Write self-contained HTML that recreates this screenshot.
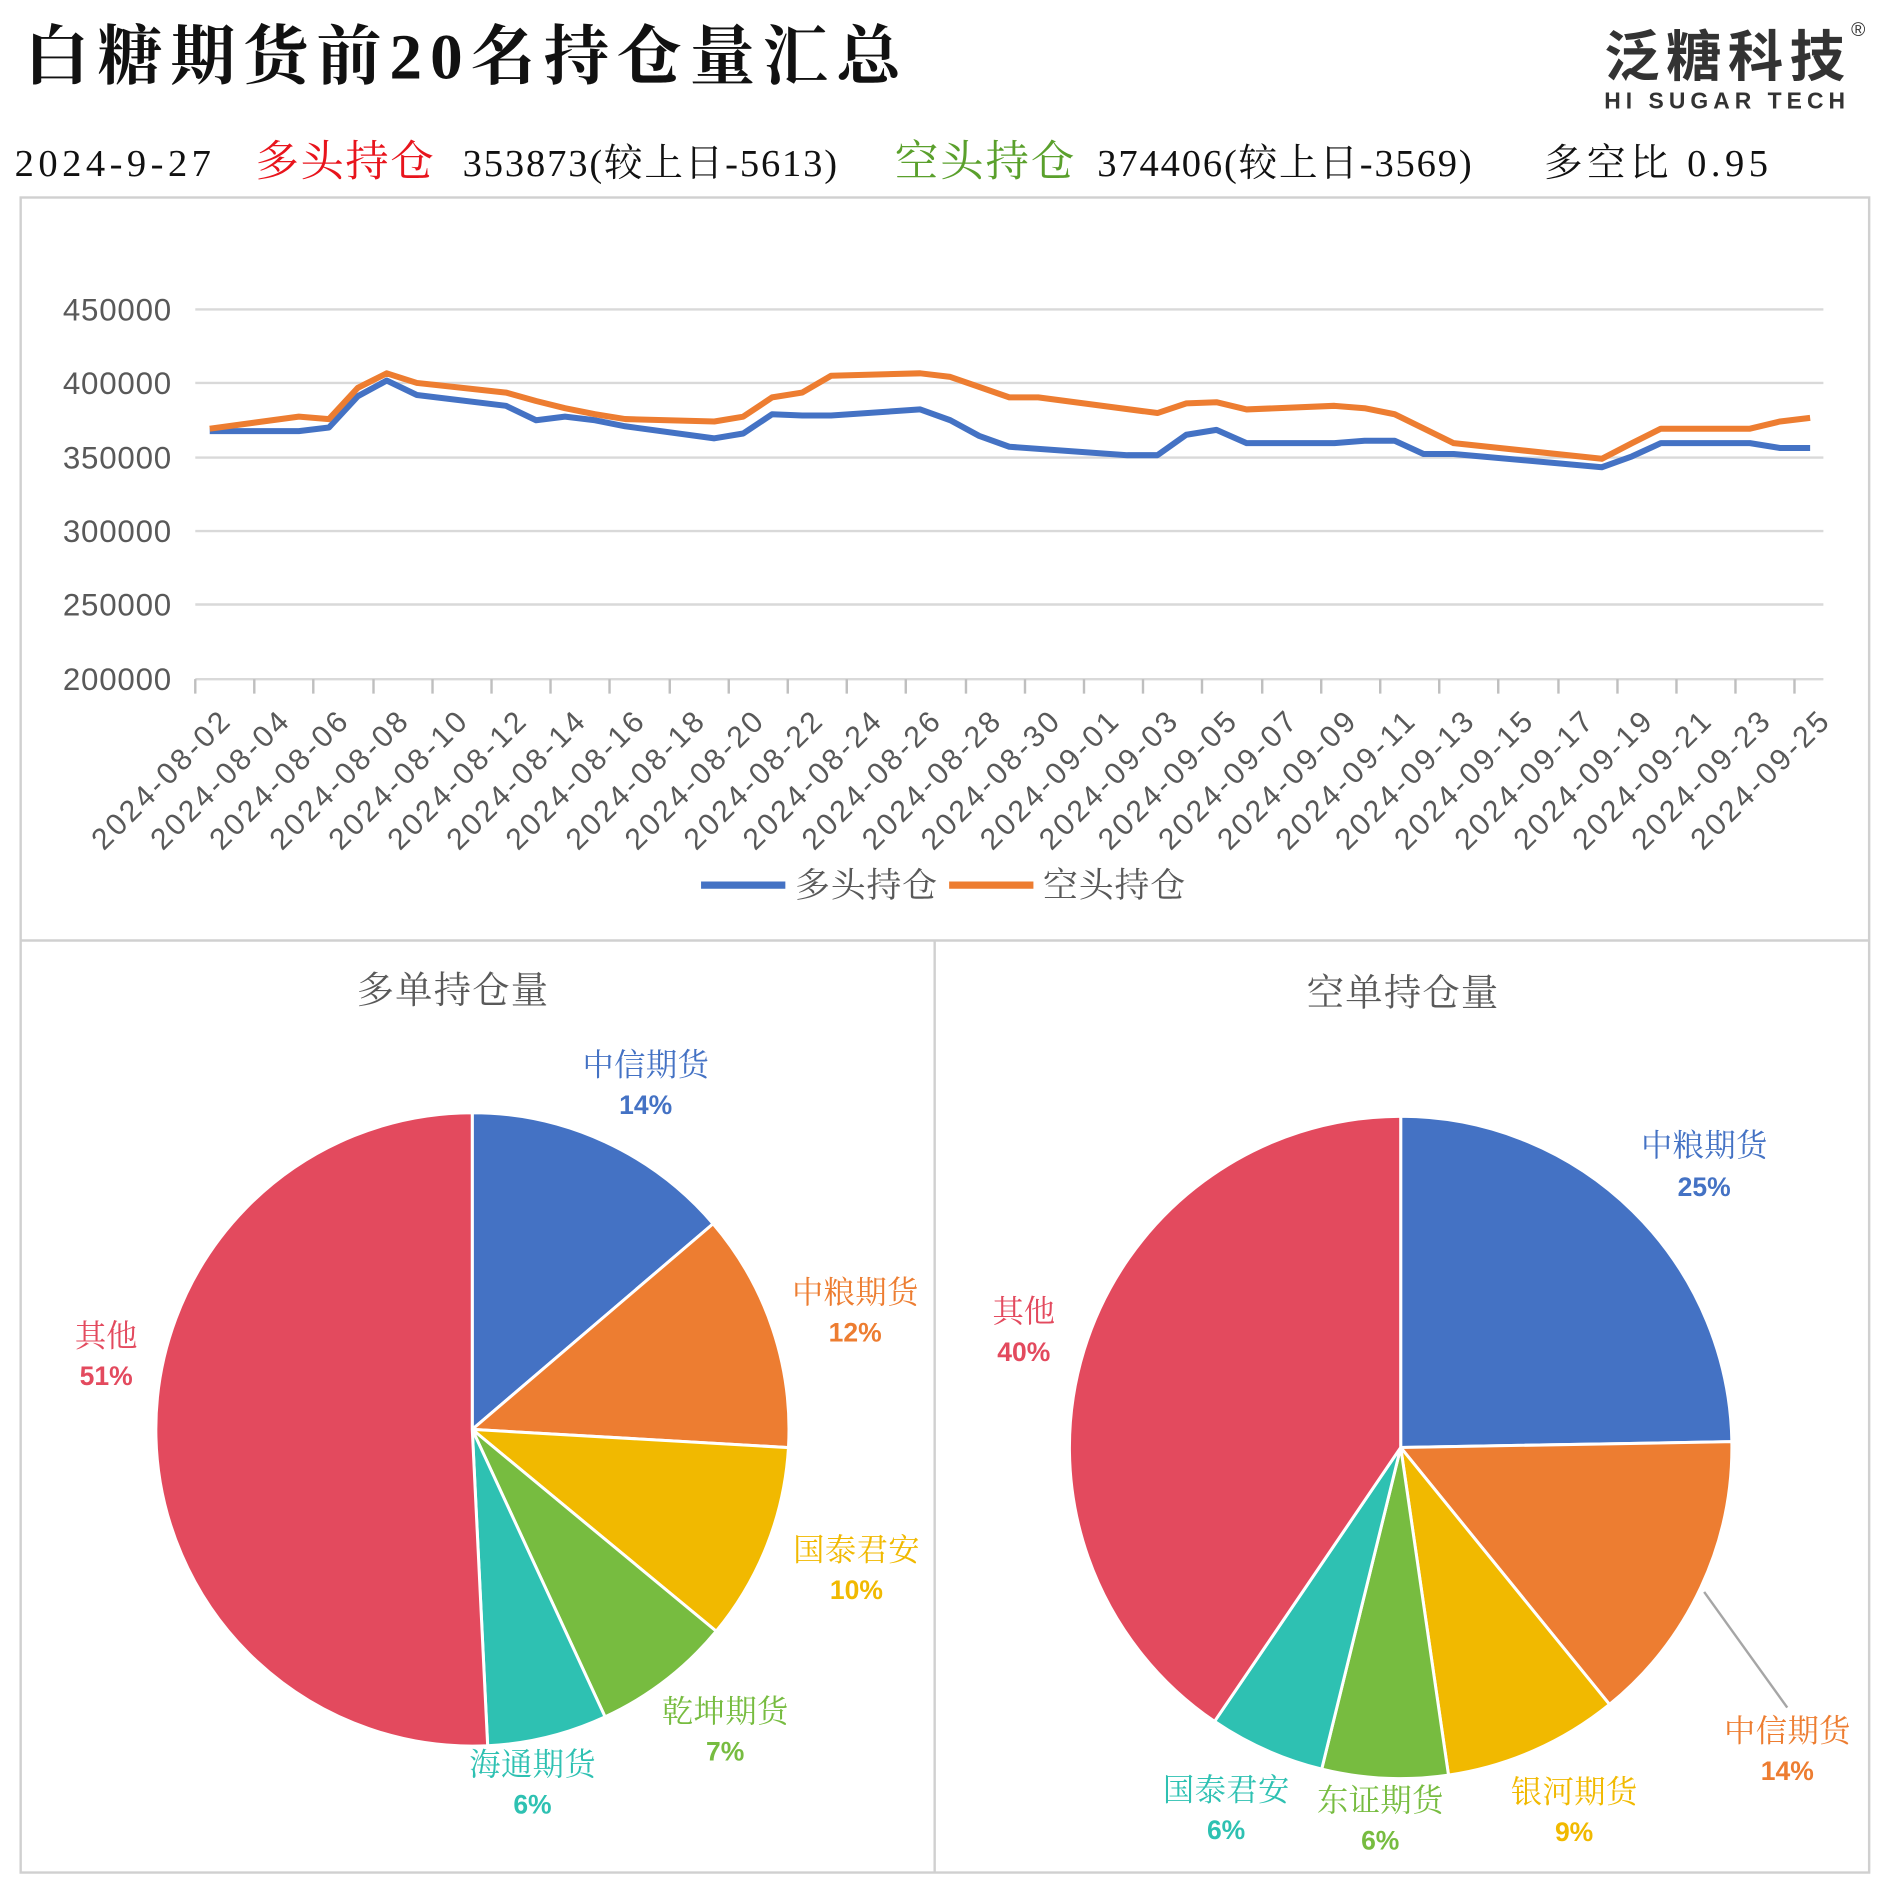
<!DOCTYPE html>
<html><head><meta charset="utf-8"><style>
html,body{margin:0;padding:0;background:#fff;}
svg{display:block}
</style></head><body>
<svg width="1885" height="1887" viewBox="0 0 1565 1567" xmlns="http://www.w3.org/2000/svg">
<rect width="1565" height="1567" fill="#fff"/>
<text x="20" y="65" font-family="'Liberation Serif','Noto Serif CJK SC',serif" font-size="54" font-weight="bold" fill="#111" textLength="728" lengthAdjust="spacing">白糖期货前20名持仓量汇总</text>
<text x="1332" y="63" font-family="'Liberation Sans','Noto Sans CJK SC',sans-serif" font-size="46" font-weight="bold" fill="#333" textLength="200">泛糖科技</text>
<text x="1537" y="30" font-family="'Liberation Sans',sans-serif" font-size="16" fill="#333">®</text>
<text x="1332" y="90" font-family="'Liberation Sans',sans-serif" font-size="19" font-weight="bold" fill="#333" textLength="200">HI SUGAR TECH</text>
<g font-family="'Liberation Serif','Noto Serif CJK SC',serif" font-size="32">
<text x="12" y="146" fill="#111" textLength="163">2024-9-27</text>
<text x="212" y="146" fill="#e8141c" font-size="36" textLength="148">多头持仓</text>
<text x="384" y="146" fill="#111" textLength="311">353873(较上日-5613)</text>
<text x="743" y="146" fill="#5aa02c" font-size="36" textLength="149">空头持仓</text>
<text x="911" y="146" fill="#111" textLength="311">374406(较上日-3569)</text>
<text x="1282" y="146" fill="#111" textLength="186">多空比 0.95</text>
</g>
<g fill="none" stroke="#d0d0d0" stroke-width="2">
<rect x="17" y="164" width="1535" height="1391"/>
<line x1="17" y1="781" x2="1552" y2="781"/>
<line x1="776" y1="781" x2="776" y2="1555"/>
</g>
<g stroke="#d9d9d9" stroke-width="2">
<line x1="162" y1="257" x2="1514" y2="257"/>
<line x1="162" y1="318" x2="1514" y2="318"/>
<line x1="162" y1="380" x2="1514" y2="380"/>
<line x1="162" y1="441" x2="1514" y2="441"/>
<line x1="162" y1="502" x2="1514" y2="502"/>
<line x1="162" y1="564" x2="1514" y2="564"/>
</g>
<g stroke="#bfbfbf" stroke-width="2">
<path d="M162 564v12M211 564v12M260 564v12M310 564v12M359 564v12M408 564v12M457 564v12M506 564v12M556 564v12M605 564v12M654 564v12M703 564v12M752 564v12M802 564v12M851 564v12M900 564v12M949 564v12M998 564v12M1048 564v12M1097 564v12M1146 564v12M1195 564v12M1244 564v12M1294 564v12M1343 564v12M1392 564v12M1441 564v12M1490 564v12"/>
</g>
<g font-family="'Liberation Sans',sans-serif" font-size="26" fill="#595959" text-anchor="end">
<text x="142" y="266" textLength="90">450000</text><text x="142" y="327" textLength="90">400000</text><text x="142" y="389" textLength="90">350000</text>
<text x="142" y="450" textLength="90">300000</text><text x="142" y="511" textLength="90">250000</text><text x="142" y="573" textLength="90">200000</text>
</g>
<g font-family="'Liberation Sans',sans-serif" font-size="25" fill="#595959" text-anchor="end">
<text transform="translate(192,601) rotate(-45)" textLength="150">2024-08-02</text>
<text transform="translate(241,601) rotate(-45)" textLength="150">2024-08-04</text>
<text transform="translate(290,601) rotate(-45)" textLength="150">2024-08-06</text>
<text transform="translate(340,601) rotate(-45)" textLength="150">2024-08-08</text>
<text transform="translate(389,601) rotate(-45)" textLength="150">2024-08-10</text>
<text transform="translate(438,601) rotate(-45)" textLength="150">2024-08-12</text>
<text transform="translate(487,601) rotate(-45)" textLength="150">2024-08-14</text>
<text transform="translate(536,601) rotate(-45)" textLength="150">2024-08-16</text>
<text transform="translate(586,601) rotate(-45)" textLength="150">2024-08-18</text>
<text transform="translate(635,601) rotate(-45)" textLength="150">2024-08-20</text>
<text transform="translate(684,601) rotate(-45)" textLength="150">2024-08-22</text>
<text transform="translate(733,601) rotate(-45)" textLength="150">2024-08-24</text>
<text transform="translate(782,601) rotate(-45)" textLength="150">2024-08-26</text>
<text transform="translate(832,601) rotate(-45)" textLength="150">2024-08-28</text>
<text transform="translate(881,601) rotate(-45)" textLength="150">2024-08-30</text>
<text transform="translate(930,601) rotate(-45)" textLength="150">2024-09-01</text>
<text transform="translate(979,601) rotate(-45)" textLength="150">2024-09-03</text>
<text transform="translate(1028,601) rotate(-45)" textLength="150">2024-09-05</text>
<text transform="translate(1078,601) rotate(-45)" textLength="150">2024-09-07</text>
<text transform="translate(1127,601) rotate(-45)" textLength="150">2024-09-09</text>
<text transform="translate(1176,601) rotate(-45)" textLength="150">2024-09-11</text>
<text transform="translate(1225,601) rotate(-45)" textLength="150">2024-09-13</text>
<text transform="translate(1274,601) rotate(-45)" textLength="150">2024-09-15</text>
<text transform="translate(1324,601) rotate(-45)" textLength="150">2024-09-17</text>
<text transform="translate(1373,601) rotate(-45)" textLength="150">2024-09-19</text>
<text transform="translate(1422,601) rotate(-45)" textLength="150">2024-09-21</text>
<text transform="translate(1471,601) rotate(-45)" textLength="150">2024-09-23</text>
<text transform="translate(1520,601) rotate(-45)" textLength="150">2024-09-25</text>
</g>
<polyline fill="none" stroke="#4472C4" stroke-width="5" stroke-linejoin="round" points="174,358 248,358 273,355 297,329 321,316 346,328 420,337 445,349 469,346 494,349 519,354 593,364 617,360 641,344 666,345 690,345 764,340 789,349 813,362 838,371 936,378 961,378 985,361 1010,357 1035,368 1108,368 1133,366 1158,366 1182,377 1207,377 1330,388 1355,379 1379,368 1453,368 1478,372 1503,372"/>
<polyline fill="none" stroke="#ED7D31" stroke-width="5" stroke-linejoin="round" points="174,356 248,346 273,348 297,322 321,310 346,318 420,326 445,333 469,339 494,344 519,348 593,350 617,346 641,330 666,326 690,312 764,310 789,313 838,330 862,330 961,343 985,335 1010,334 1035,340 1108,337 1133,339 1158,344 1207,368 1330,381 1355,368 1379,356 1453,356 1478,350 1503,347"/>
<line x1="582" y1="735" x2="652" y2="735" stroke="#4472C4" stroke-width="6"/>
<line x1="788" y1="735" x2="858" y2="735" stroke="#ED7D31" stroke-width="6"/>
<g font-family="'Liberation Serif','Noto Serif CJK SC',serif" font-size="29" fill="#595959">
<text x="660" y="745" textLength="118">多头持仓</text><text x="866" y="745" textLength="118">空头持仓</text>
<text x="296" y="833" font-size="31" textLength="159">多单持仓量</text><text x="1085" y="835" font-size="31" textLength="159">空单持仓量</text>
</g>
<g stroke="#fff" stroke-width="2.5">
<path d="M392 1187L392 924A263 263 0 0 1 592 1016.2Z" fill="#4472C4"/>
<path d="M392 1187L592 1016.2A263 263 0 0 1 654.6 1202.1Z" fill="#ED7D31"/>
<path d="M392 1187L654.6 1202.1A263 263 0 0 1 594.6 1354.6Z" fill="#F1B900"/>
<path d="M392 1187L594.6 1354.6A263 263 0 0 1 502.3 1425.7Z" fill="#77BC40"/>
<path d="M392 1187L502.3 1425.7A263 263 0 0 1 404.8 1449.7Z" fill="#2EC1B2"/>
<path d="M392 1187L404.8 1449.7A263 263 0 1 1 392 924Z" fill="#E34A5E"/>
<path d="M1163 1202L1163 927A275 275 0 0 1 1438 1197.2Z" fill="#4472C4"/>
<path d="M1163 1202L1438 1197.2A275 275 0 0 1 1336.4 1415.4Z" fill="#ED7D31"/>
<path d="M1163 1202L1336.4 1415.4A275 275 0 0 1 1202.7 1474.1Z" fill="#F1B900"/>
<path d="M1163 1202L1202.7 1474.1A275 275 0 0 1 1097.4 1469.1Z" fill="#77BC40"/>
<path d="M1163 1202L1097.4 1469.1A275 275 0 0 1 1008.4 1429.5Z" fill="#2EC1B2"/>
<path d="M1163 1202L1008.4 1429.5A275 275 0 0 1 1163 927Z" fill="#E34A5E"/>
</g>
<line x1="1415" y1="1322" x2="1484" y2="1418" stroke="#a6a6a6" stroke-width="2"/>
<g text-anchor="middle">
<g font-family="'Liberation Serif','Noto Serif CJK SC',serif" font-size="26">
<text x="536" y="893" fill="#4472C4" textLength="105">中信期货</text>
<text x="710" y="1082" fill="#ED7D31" textLength="105">中粮期货</text>
<text x="711" y="1296" fill="#F1B900" textLength="105">国泰君安</text>
<text x="602" y="1430" fill="#77BC40" textLength="105">乾坤期货</text>
<text x="442" y="1474" fill="#2EC1B2" textLength="105">海通期货</text>
<text x="88" y="1118" fill="#E34A5E" textLength="52">其他</text>
<text x="1415" y="960" fill="#4472C4" textLength="105">中粮期货</text>
<text x="1484" y="1446" fill="#ED7D31" textLength="105">中信期货</text>
<text x="1307" y="1497" fill="#F1B900" textLength="105">银河期货</text>
<text x="1146" y="1504" fill="#77BC40" textLength="105">东证期货</text>
<text x="1018" y="1495" fill="#2EC1B2" textLength="105">国泰君安</text>
<text x="850" y="1098" fill="#E34A5E" textLength="52">其他</text>
</g>
<g font-family="'Liberation Sans',sans-serif" font-weight="bold" font-size="22">
<text x="536" y="925" fill="#4472C4">14%</text>
<text x="710" y="1114" fill="#ED7D31">12%</text>
<text x="711" y="1328" fill="#F1B900">10%</text>
<text x="602" y="1462" fill="#77BC40">7%</text>
<text x="442" y="1506" fill="#2EC1B2">6%</text>
<text x="88" y="1150" fill="#E34A5E">51%</text>
<text x="1415" y="993" fill="#4472C4">25%</text>
<text x="1484" y="1478" fill="#ED7D31">14%</text>
<text x="1307" y="1529" fill="#F1B900">9%</text>
<text x="1146" y="1536" fill="#77BC40">6%</text>
<text x="1018" y="1527" fill="#2EC1B2">6%</text>
<text x="850" y="1130" fill="#E34A5E">40%</text>
</g>
</g>
</svg>
</body></html>
